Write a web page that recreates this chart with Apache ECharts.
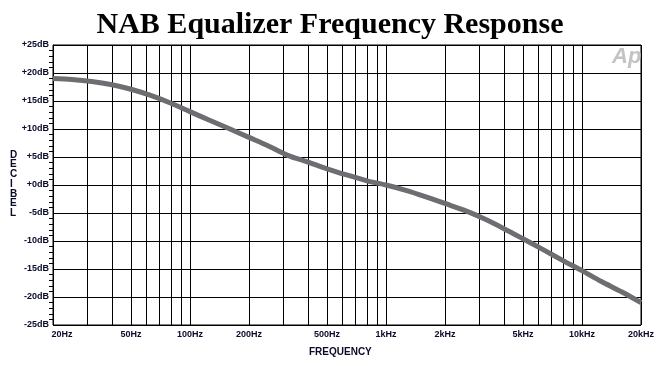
<!DOCTYPE html>
<html>
<head>
<meta charset="utf-8">
<script src="https://cdn.jsdelivr.net/npm/echarts@6/dist/echarts.min.js"></script>
<style>
html,body{margin:0;padding:0;background:#fff;}
#c{width:660px;height:365px;}
</style>
</head>
<body>
<div id="c"></div>
<script>
const freqs = [20,25,31.5,40,50,63,80,100,125,160,200,250,315,400,500,630,800,1000,1250,1600,2000,2500,3150,4000,5000,6300,8000,10000,12500,16000,20000];
const gains = [19.0,18.85,18.5,17.9,17.1,16.0,14.6,13.1,11.6,10.0,8.5,7.0,5.3,4.1,2.9,1.8,0.75,0.0,-0.9,-2.1,-3.3,-4.5,-6.0,-7.8,-9.6,-11.5,-13.5,-15.3,-17.2,-19.1,-21.0];
const xLabelFreqs = [20,50,100,200,500,1000,2000,5000,10000,20000];
const xLabelTexts = ['20Hz','50Hz','100Hz','200Hz','500Hz','1kHz','2kHz','5kHz','10kHz','20kHz'];
const gridFreqs = [20,30,40,50,60,70,80,90,100,200,300,400,500,600,700,800,900,1000,2000,3000,4000,5000,6000,7000,8000,9000,10000,20000];
const yTicks = [-25,-20,-15,-10,-5,0,5,10,15,20,25];
const yTickLabels = ['-25dB','-20dB','-15dB','-10dB','-5dB','+0dB','+5dB','+10dB','+15dB','+20dB','+25dB'];

const txt = '#0a0a2a';
const chart = echarts.init(document.getElementById('c'), null, {renderer:'canvas'});
chart.setOption({
  animation:false,
  backgroundColor:'#fff',
  title:{
    text:'NAB Equalizer Frequency Response',
    left:'center', top:5,
    textStyle:{fontFamily:'Liberation Serif', fontWeight:'bold', fontSize:30, color:'#000'}
  },
  graphic:[
    {type:'text', left:10, top:150, style:{text:'D\nE\nC\nI\nB\nE\nL', fontFamily:'Liberation Sans', fontWeight:'bold', fontSize:10, lineHeight:9.7, fill:txt, align:'center'}},
    {type:'text', left:309, top:347, style:{text:'FREQUENCY', fontFamily:'Liberation Sans', fontWeight:'bold', fontSize:10, fill:txt}},
    {type:'text', left:612, top:46, style:{text:'Ap', fontFamily:'Liberation Sans', fontWeight:'bold', fontStyle:'italic', fontSize:22, fill:'#c4c4c4'}}
  ],
  grid:{left:53, right:19, top:45, bottom:40, show:true, borderColor:'#000', borderWidth:1, containLabel:false},
  xAxis:{
    type:'log', logBase:10, min:20, max:20000,
    axisLine:{show:true, lineStyle:{color:'#000', width:1}},
    axisTick:{show:false, customValues:gridFreqs},
    splitLine:{show:true, lineStyle:{color:'#000', width:1}},
    axisLabel:{
      customValues:xLabelFreqs,
      margin:5,
      fontFamily:'Liberation Sans', fontWeight:'bold', fontSize:9, color:txt,
      formatter:function(v){
        const i = xLabelFreqs.findIndex(f=>Math.abs(f-v)/f<1e-6);
        const t = i>=0 ? xLabelTexts[i] : '';
        return i===0 ? '{first|'+t+'}' : t;
      },
      rich:{first:{padding:[0,0,0,18], fontFamily:'Liberation Sans', fontWeight:'bold', fontSize:9, color:txt}}
    }
  },
  yAxis:{
    type:'value', min:-25, max:25, interval:5,
    axisLine:{show:true, lineStyle:{color:'#000', width:1}},
    axisTick:{show:false},
    minorTick:{show:true, splitNumber:5, length:4, lineStyle:{color:'#000', width:1}},
    splitLine:{show:true, lineStyle:{color:'#000', width:1}},
    axisLabel:{
      margin:4,
      fontFamily:'Liberation Sans', fontWeight:'bold', fontSize:9, color:txt,
      formatter:function(v){ const i = yTicks.indexOf(Math.round(v)); return i>=0 ? yTickLabels[i] : ''; }
    }
  },
  series:[{
    type:'line',
    data:freqs.map((f,i)=>[f,gains[i]]),
    showSymbol:false,
    smooth:0.3,
    lineStyle:{color:'#6e6e72', width:5},
    z:5
  }]
});
</script>
</body>
</html>
